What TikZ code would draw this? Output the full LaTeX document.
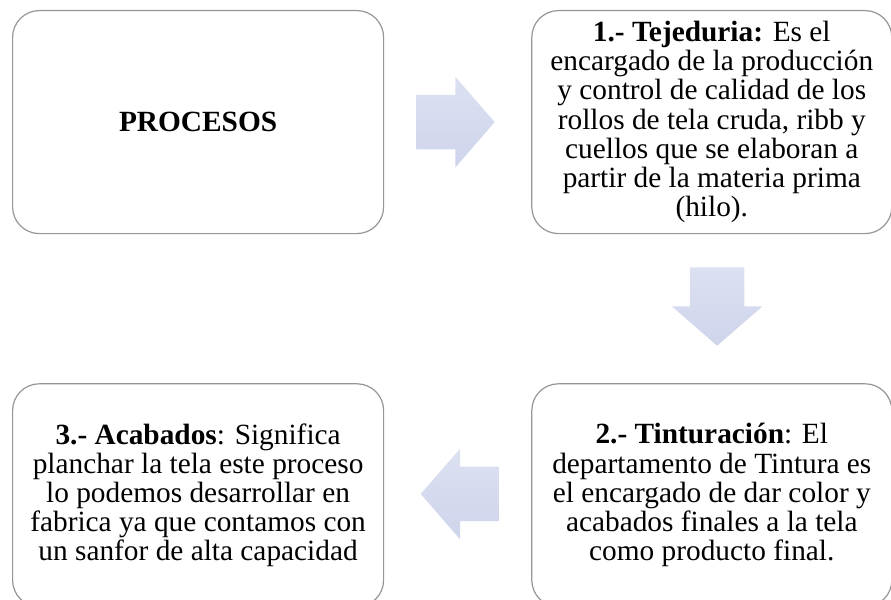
\documentclass[tikz,border=0pt]{standalone}
\usepackage{fontspec}
\setmainfont{Liberation Serif}
\usetikzlibrary{positioning}
\usetikzlibrary{shapes.arrows}
\definecolor{boxline}{RGB}{150,150,150}
\definecolor{arrowtop}{RGB}{220,225,241}
\definecolor{arrowbot}{RGB}{206,212,235}

\begin{document}
\begin{tikzpicture}[
        box/.style={rectangle, rounded corners=20pt, draw=boxline, line width=0.9pt, fill=white, minimum width=278.25pt, minimum height=167.25pt, inner sep=2pt, align=center, font=\fontsize{22}{21.9}\selectfont},
        boxr/.style={box, minimum width=270pt},
        flecha/.style={single arrow, draw=none, top color=arrowtop, bottom color=arrowbot, minimum height=58.5pt, inner sep=20.25pt, single arrow head extend=13.5pt, single arrow tip angle=98, anchor=tail}
      ]
        \useasboundingbox (0,0) rectangle (668.25pt,-449.25pt);

        \node[box]    (procesos)     [anchor=north west] at (9pt,-7.5pt)  {\textbf{PROCESOS}};
        \node[boxr]   (tejeduria)    [right=110.25pt of procesos]  {\textbf{1.- Tejeduria:} Es el\\ encargado de la producción\\ y control de calidad de los\\ rollos de tela cruda, ribb y\\ cuellos que se elaboran a\\ partir de la materia prima\\ (hilo).};
        \node[boxr]   (tinturacion)  [below=111.75pt of tejeduria]  {\textbf{2.- Tinturación}: El\\ departamento de Tintura es\\ el encargado de dar color y\\ acabados finales a la tela\\ como producto final.};
        \node[box]    (acabados)     [below=111.75pt of procesos]  {\textbf{3.- Acabados}: Significa\\ planchar la tela este proceso\\ lo podemos desarrollar en\\ fabrica ya que contamos con\\ un sanfor de alta capacidad};

        \node[flecha]  (haciaTej)  at ([xshift=24pt]procesos.east)  {};
        \node[flecha, shape border rotate=270]  (haciaTin)  at ([xshift=4pt, yshift=-24.75pt]tejeduria.south)  {};
        \node[flecha, shape border rotate=180]  (haciaAca)  at ([xshift=-24pt, yshift=1pt]tinturacion.west)  {};
      \end{tikzpicture}
\end{document}
